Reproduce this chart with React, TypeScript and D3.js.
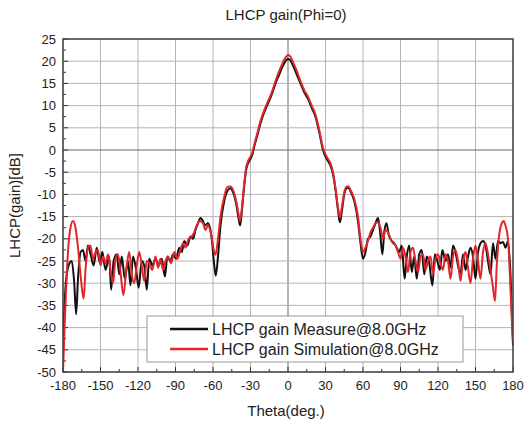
import React from "react";
import * as d3 from "d3";

const W = 532;
const H = 424;

const title = "LHCP gain(Phi=0)";
const xTitle = "Theta(deg.)";
const yTitle = "LHCP(gain)[dB]";
const xTicks = [-180, -150, -120, -90, -60, -30, 0, 30, 60, 90, 120, 150, 180];
const yTicks = [-50, -45, -40, -35, -30, -25, -20, -15, -10, -5, 0, 5, 10, 15, 20, 25];
const seriesNames = ["LHCP gain Measure@8.0GHz", "LHCP gain Simulation@8.0GHz"];
const seriesColors = ["#111111", "#e3262b"];

const measureTheta = [
  -180, -178, -175.5, -173, -171, -169.5, -168, -166, -164, -162, -160, -157.5, -155.5, -153, -150.5,
  -148.5, -146, -143, -141.5, -139.5, -137, -135, -133, -130.5, -128, -126, -124, -121.5, -119.5, -117,
  -115, -113, -111, -108.5, -106, -103.5, -101, -98.5, -96.5, -94, -92, -89.5, -87, -85, -83, -80.5,
  -78, -76, -74, -72, -70, -68, -66.5, -64, -61, -59, -57.8, -56, -54, -51, -48, -46, -44, -41.5, -39.5,
  -38.3, -37, -35, -33.5, -32, -30, -28.5, -27, -25, -22, -19, -16, -13, -10, -7, -4, -1.5, 0, 1.5, 4,
  7, 10, 13, 16, 19, 22, 25, 28, 30, 32, 34, 36, 38, 40, 41.5, 43, 45, 47, 48.5, 50, 53, 56, 58, 60,
  62, 64, 66, 68, 70, 72, 73.5, 75.5, 77, 78.8, 80.5, 83, 85, 87, 89, 91, 93.3, 95, 97, 99, 101, 103,
  105, 107, 109, 111, 113, 115.5, 117.5, 119.5, 121.5, 123.5, 126, 128, 130, 132, 134, 136, 138, 140,
  142, 144, 146, 148, 150, 152, 154, 156, 158, 160, 162, 164, 166, 168, 170, 172, 174, 176, 178, 180,
];
const measureGain = [
  -42, -31, -26, -25, -30, -37, -29, -23, -22.5, -25, -21.5, -24, -26, -22, -25.5,
  -23, -27, -24, -31.5, -25, -23.5, -28, -24, -29, -25, -30.5, -24, -27, -31, -25,
  -26, -31.5, -24.5, -26, -24.5, -26, -24.5, -28.5, -24, -25, -23.5, -24.5, -22, -23, -20.5, -21.5,
  -19.5, -20, -18, -16.5, -15.3, -16, -17, -16.5, -20, -26, -28.3, -24, -17, -11.5, -9, -8.6, -9.5, -12, -15.5,
  -17, -14, -8, -4.5, -3, -2, -1, 0.8, 2.8, 6, 8.5, 10.5, 12.5, 15, 17, 19, 20.2, 20.5, 20.3, 19,
  17, 15, 13, 11.5, 9.5, 7.5, 4, 0, -1.5, -2.5, -3.5, -5.5, -9, -13.5, -16.3, -14, -10, -8.6, -8.5, -9.3, -11.5, -16, -21, -24.5,
  -23, -20, -19.5, -18, -16.5, -15.3, -18, -23.5, -18.5, -16.5, -19, -20.5, -21, -22, -23, -21.5, -29, -24, -21.5, -27.5, -24, -29,
  -23.5, -22.5, -28, -24, -25.5, -30.5, -23.5, -25, -27, -22.5, -25, -23.5, -26.5, -21.5, -23, -26, -28, -23.5,
  -27, -24, -22, -24, -29, -23, -21, -20.5, -21.5, -25, -28, -21, -24.5, -20.5, -21, -20.7, -22, -20.5, -28, -44,
];

const simTheta = [
  -180, -178.5, -177, -175.5, -174, -172, -170, -168, -166, -163.5, -162, -160, -158, -156, -154, -152,
  -150, -148, -146, -144, -142, -140, -138, -136, -134, -131.7, -129, -127, -125, -123, -121, -119, -117,
  -115, -113, -111, -108.5, -106, -104, -102, -100, -98, -96, -93.5, -91, -88.5, -86, -84, -82, -79.5,
  -77, -75, -73, -70.5, -68, -66, -64, -61.5, -59, -58, -56, -54, -51, -48.5, -46, -44, -41.5, -39.5,
  -38.5, -37, -35, -33.5, -32, -30, -28.5, -27, -25, -22, -19, -16, -13, -10, -7, -4, -1.5, 0.5, 2, 4,
  7, 10, 13, 16, 19, 22, 25, 28, 30, 32, 34, 36, 38, 40, 41.6, 43, 45, 47, 48.5, 50, 53, 56, 58, 60,
  62, 64, 66, 68, 70, 72, 74, 76, 78, 80, 82, 84, 86, 88, 90, 92, 94, 96, 98, 100, 102, 104, 106, 108,
  110, 112, 114, 116, 118, 120, 122, 124, 126, 128, 130, 132, 134, 136, 138, 140, 142, 144, 146, 148,
  150, 152, 154, 156, 158, 160, 162, 164, 165.6, 167, 169, 171, 172.5, 174, 176, 177.5, 179, 180,
];
const simGain = [
  -50, -38, -28, -21, -17.5, -16, -17.5, -22, -28, -33.5, -27, -22, -21.5, -24.5, -23, -22.5,
  -26, -24, -25.5, -23.5, -27, -30, -24.5, -23.5, -27.5, -32.7, -26, -23, -28, -30, -26, -23, -26,
  -29.5, -25, -25.5, -27, -24, -26.5, -24.5, -27, -25, -24, -25.5, -23, -24.5, -22.5, -21, -22, -20,
  -19.5, -18.5, -17, -16, -16.5, -18, -17, -19, -23, -23.6, -20, -15, -10.5, -8.3, -8.2, -9, -11.5, -14.5,
  -16, -13.5, -7.5, -4, -2.5, -1.5, -0.5, 1.2, 3.3, 6.5, 9, 11, 13, 15.5, 17.8, 19.8, 21, 21.4, 21, 19.8,
  17.8, 15.5, 13.5, 12, 10, 8, 4.5, 0.5, -1, -2, -3, -5, -8.5, -13, -15.2, -13, -9.5, -8.2, -8.2, -9, -11, -15, -20, -23,
  -22, -20.5, -18.5, -17.5, -16.5, -16.3, -17.5, -20, -18, -18.5, -20, -21, -21.5, -23, -24.5, -22, -24, -27.5, -23, -22, -25, -27.5, -24, -23.5,
  -27, -25, -24, -28, -24.5, -23.5, -25.5, -27, -23.5, -25, -29, -24, -22.5, -25, -29.5, -25, -23, -26.5, -30, -24.5,
  -21.5, -25, -29, -23, -21, -23.5, -27, -31, -34, -26, -19, -16.5, -16, -17, -20, -28, -38, -43,
];

const M = { left: 63, right: 513, top: 39, bottom: 372 };

export default function App() {
  const x = d3.scaleLinear().domain([-180, 180]).range([M.left, M.right]);
  const y = d3.scaleLinear().domain([-50, 25]).range([M.bottom, M.top]);
  const font = "'Liberation Sans', Arial, sans-serif";

  const line = d3
    .line<[number, number]>()
    .x((d) => x(d[0]))
    .y((d) => y(d[1]))
    .curve(d3.curveMonotoneX);

  const measure = measureTheta.map((t, i) => [t, measureGain[i]] as [number, number]);
  const sim = simTheta.map((t, i) => [t, simGain[i]] as [number, number]);

  const xMinor = d3.range(-165, 180, 30);
  const yMinor = d3.range(-47.5, 25, 5);

  return (
    <svg
      width={W}
      height={H}
      style={{ position: "absolute", left: 0, top: 0, background: "#fff" }}
      fontFamily={font}
    >
      <rect x={0} y={0} width={W} height={H} fill="#fff" />
      <text x={286} y={20} textAnchor="middle" fontSize={15} fill="#222">
        {title}
      </text>
      {/* grid */}
      {xTicks.map((t) => (
        <line
          key={"gx" + t}
          x1={x(t)}
          x2={x(t)}
          y1={M.top}
          y2={M.bottom}
          stroke={t === 0 ? "#666" : "#b4b4b4"}
          strokeWidth={1}
        />
      ))}
      {yTicks.map((t) => (
        <line
          key={"gy" + t}
          x1={M.left}
          x2={M.right}
          y1={y(t)}
          y2={y(t)}
          stroke={t === 0 ? "#666" : "#b4b4b4"}
          strokeWidth={1}
        />
      ))}
      {/* ticks */}
      {xTicks.map((t) => (
        <line key={"tx" + t} x1={x(t)} x2={x(t)} y1={M.bottom} y2={M.bottom - 5} stroke="#333" strokeWidth={1} />
      ))}
      {xMinor.map((t) => (
        <line key={"mx" + t} x1={x(t)} x2={x(t)} y1={M.bottom} y2={M.bottom - 3} stroke="#333" strokeWidth={1} />
      ))}
      {yTicks.map((t) => (
        <line key={"ty" + t} x1={M.left} x2={M.left + 5} y1={y(t)} y2={y(t)} stroke="#333" strokeWidth={1} />
      ))}
      {yMinor.map((t) => (
        <line key={"my" + t} x1={M.left} x2={M.left + 3} y1={y(t)} y2={y(t)} stroke="#333" strokeWidth={1} />
      ))}
      {/* curves */}
      <g clipPath="url(#plotclip)">
        <path d={line(measure) || ""} fill="none" stroke={seriesColors[0]} strokeWidth={2} strokeLinejoin="round" />
        <path d={line(sim) || ""} fill="none" stroke={seriesColors[1]} strokeWidth={2} strokeLinejoin="round" />
      </g>
      <defs>
        <clipPath id="plotclip">
          <rect x={M.left} y={M.top} width={M.right - M.left} height={M.bottom - M.top} />
        </clipPath>
      </defs>
      {/* frame */}
      <rect
        x={M.left}
        y={M.top}
        width={M.right - M.left}
        height={M.bottom - M.top}
        fill="none"
        stroke="#444"
        strokeWidth={1.5}
      />
      {/* tick labels */}
      {xTicks.map((t) => (
        <text key={"lx" + t} x={x(t)} y={M.bottom + 18} textAnchor="middle" fontSize={13} fill="#222">
          {t}
        </text>
      ))}
      {yTicks.map((t) => (
        <text key={"ly" + t} x={M.left - 7} y={y(t) + 4.5} textAnchor="end" fontSize={13} fill="#222">
          {t}
        </text>
      ))}
      <text x={286} y={416} textAnchor="middle" fontSize={15} fill="#222">
        {xTitle}
      </text>
      <text
        transform={`translate(20, ${(M.top + M.bottom) / 2}) rotate(-90)`}
        textAnchor="middle"
        fontSize={15}
        fill="#222"
      >
        {yTitle}
      </text>
      {/* legend */}
      <rect x={147} y={316} width={316} height={46} fill="#fff" stroke="#999" strokeWidth={1} />
      {seriesNames.map((n, i) => (
        <g key={n}>
          <line x1={170} x2={208} y1={329 + i * 20} y2={329 + i * 20} stroke={seriesColors[i]} strokeWidth={2.5} />
          <text x={212} y={329 + i * 20 + 5.5} fontSize={16} fill="#222">
            {n}
          </text>
        </g>
      ))}
    </svg>
  );
}
